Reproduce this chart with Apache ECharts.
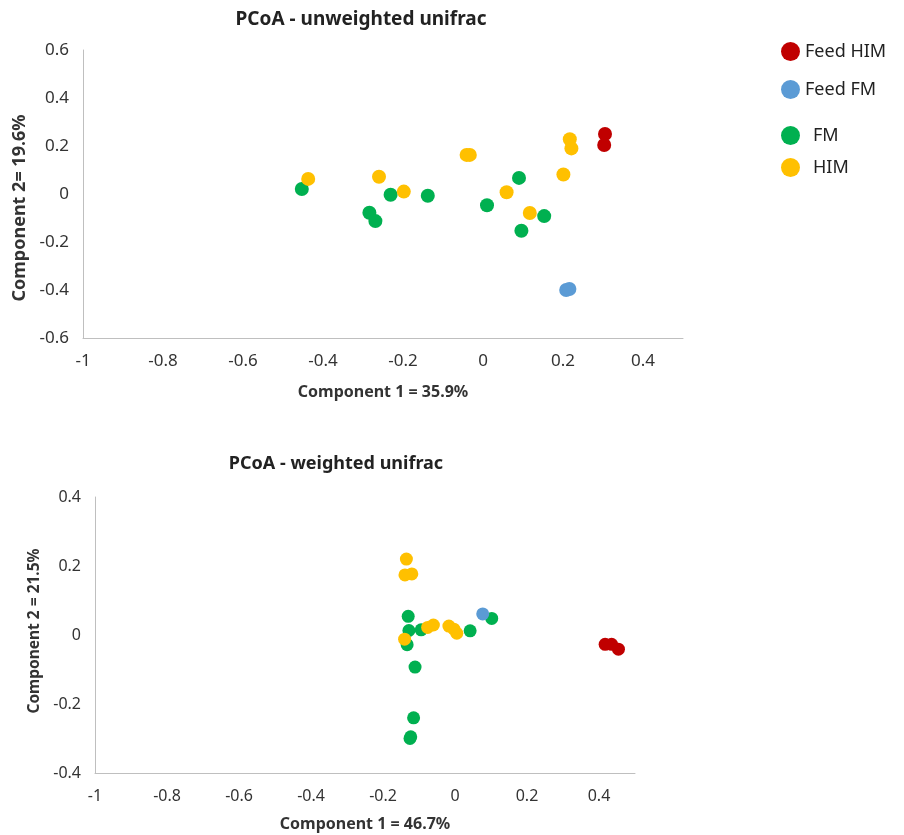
<!DOCTYPE html>
<html>
<head>
<meta charset="utf-8">
<script src="https://cdn.jsdelivr.net/npm/echarts@6/dist/echarts.min.js"></script>
<style>
  html, body { margin: 0; padding: 0; background: #fff; }
  #chart { width: 904px; height: 835px; }
</style>
</head>
<body>
<div id="chart"></div>
<script>
// groups / legend
var groupNames = ['Feed HIM', 'Feed FM', 'FM', 'HIM'];
var groupColors = ['#C00000', '#5B9BD5', '#00B050', '#FFC000'];

// PCoA unweighted unifrac  [component 1, component 2]
var unwFeedHIM = [[0.305, 0.250], [0.303, 0.204]];
var unwFeedFM = [[0.208, -0.400], [0.216, -0.396]];
var unwFM = [[-0.453, 0.021], [-0.231, -0.003], [-0.138, -0.007], [-0.284, -0.078],
  [-0.269, -0.113], [0.010, -0.047], [0.090, 0.067], [0.153, -0.092], [0.096, -0.153]];
var unwHIM = [[-0.437, 0.063], [-0.260, 0.072], [-0.198, 0.010], [-0.041, 0.163],
  [-0.033, 0.163], [0.059, 0.007], [0.117, -0.079], [0.201, 0.081], [0.217, 0.228], [0.221, 0.190]];

// PCoA weighted unifrac
var wFeedHIM = [[0.417, -0.027], [0.435, -0.027], [0.454, -0.041]];
var wFeedFM = [[0.077, 0.061]];
var wFM = [[-0.130, 0.054], [-0.128, 0.013], [-0.094, 0.015], [0.042, 0.012], [0.102, 0.048],
  [-0.133, -0.028], [-0.111, -0.093], [-0.115, -0.240], [-0.125, -0.300], [-0.123, -0.295]];
var wHIM = [[-0.135, 0.220], [-0.139, 0.174], [-0.120, 0.177], [-0.076, 0.022], [-0.060, 0.029],
  [-0.017, 0.026], [-0.003, 0.017], [0.005, 0.005], [-0.140, -0.012]];

// axis ticks
var xTicks = { min: -1, max: 0.5, interval: 0.2 };
var yTicksTop = { min: -0.6, max: 0.6, interval: 0.2 };
var yTicksBottom = { min: -0.4, max: 0.4, interval: 0.2 };

var font = 'Noto Sans, DejaVu Sans, sans-serif';

function tickFmt(v) {
  return String(+v.toFixed(1));
}

function makeX(idx, t, name, nameSize, tickSize, gap) {
  return {
    type: 'value', gridIndex: idx, min: t.min, max: t.max, interval: t.interval,
    name: name, nameLocation: 'middle', nameGap: gap,
    nameTextStyle: { fontFamily: font, fontSize: nameSize, fontWeight: 'bold', color: '#333' },
    axisLine: { onZero: false, lineStyle: { color: '#bfbfbf' } },
    axisTick: { show: false },
    splitLine: { show: false },
    axisLabel: { showMaxLabel: false, formatter: tickFmt, fontFamily: font, fontSize: tickSize, color: '#333', margin: 15 }
  };
}

function makeY(idx, t, name, nameSize, tickSize, gap, pad) {
  return {
    type: 'value', gridIndex: idx, min: t.min, max: t.max, interval: t.interval,
    name: name, nameLocation: 'middle', nameGap: gap, nameRotate: 90,
    nameTextStyle: { fontFamily: font, fontSize: nameSize, fontWeight: 'bold', color: '#333', padding: pad },
    axisLine: { show: true, onZero: false, lineStyle: { color: '#bfbfbf' } },
    axisTick: { show: false },
    splitLine: { show: false },
    axisLabel: { formatter: tickFmt, fontFamily: font, fontSize: tickSize, color: '#333', margin: 14 }
  };
}

function makeSeries(name, data, idx, size) {
  var c = groupColors[groupNames.indexOf(name)];
  return {
    name: name, type: 'scatter', xAxisIndex: idx, yAxisIndex: idx,
    data: data, symbolSize: size,
    itemStyle: { color: c, opacity: 1 }
  };
}

var chart = echarts.init(document.getElementById('chart'), null, { renderer: 'canvas' });

var option = {
  backgroundColor: '#fff',
  animation: false,
  title: [
    { text: 'PCoA - unweighted unifrac', left: 356, top: 5, textAlign: 'center',
      textStyle: { fontFamily: font, fontSize: 19, fontWeight: 'bold', color: '#222' } },
    { text: 'PCoA - weighted unifrac', left: 331, top: 450, textAlign: 'center',
      textStyle: { fontFamily: font, fontSize: 18, fontWeight: 'bold', color: '#222' } }
  ],
  legend: [
    { data: ['Feed HIM', 'Feed FM'], orient: 'vertical', left: 776, top: 37,
      icon: 'circle', itemWidth: 19, itemHeight: 19, itemGap: 19,
      textStyle: { fontFamily: font, fontSize: 18, color: '#222' } },
    { data: ['FM', 'HIM'], orient: 'vertical', left: 776, top: 121,
      icon: 'circle', itemWidth: 19, itemHeight: 19, itemGap: 13,
      textStyle: { fontFamily: font, fontSize: 18, color: '#222', padding: [0, 0, 0, 8] } }
  ],
  grid: [
    { left: 83, top: 50, width: 600, height: 288 },
    { left: 95, top: 497, width: 540, height: 276 }
  ],
  xAxis: [
    makeX(0, xTicks, 'Component 1 = 35.9%', 16, 17, 46),
    makeX(1, xTicks, 'Component 1 = 46.7%', 16, 16, 43)
  ],
  yAxis: [
    makeY(0, yTicksTop, 'Component 2= 19.6%', 18, 17, 50, [0, 28, 0, 0]),
    makeY(1, yTicksBottom, 'Component 2 = 21.5%', 15.5, 16, 51, [0, 0, 0, 8])
  ],
  series: [
    makeSeries('FM', unwFM, 0, 14),
    makeSeries('HIM', unwHIM, 0, 14),
    makeSeries('Feed FM', unwFeedFM, 0, 14),
    makeSeries('Feed HIM', unwFeedHIM, 0, 14),
    makeSeries('FM', wFM, 1, 13),
    makeSeries('HIM', wHIM, 1, 13),
    makeSeries('Feed FM', wFeedFM, 1, 13),
    makeSeries('Feed HIM', wFeedHIM, 1, 13)
  ]
};

chart.setOption(option);
</script>
</body>
</html>
